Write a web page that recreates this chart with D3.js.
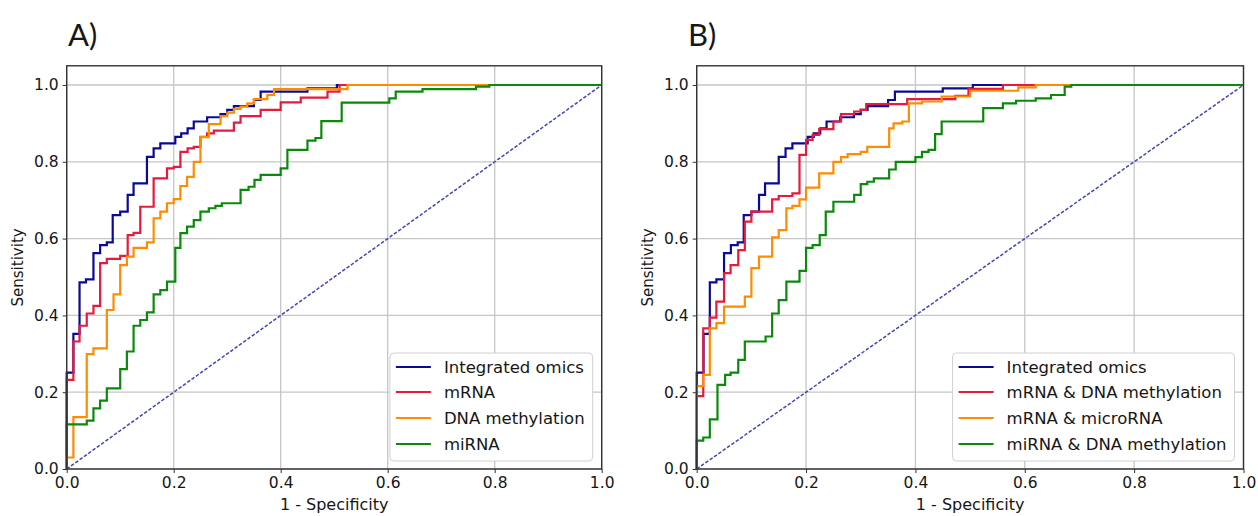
<!DOCTYPE html>
<html>
<head>
<meta charset="utf-8">
<script src="https://cdn.jsdelivr.net/npm/d3@7"></script>
<style>
  body { margin: 0; background: #fff; }
  svg text { font-family: "DejaVu Sans", sans-serif; fill: #161616; }
</style>
</head>
<body>
<div id="chart"></div>
<script>
// ROC points as [1 - specificity, sensitivity]; each point is the level reached after a vertical rise
const integrated = [[0,0],[0,0.251],[0.0125,0.352],[0.024,0.486],[0.036,0.494],[0.05,0.562],[0.0625,0.583],[0.075,0.59],[0.086,0.661],[0.1,0.67],[0.114,0.714],[0.125,0.744],[0.15,0.813],[0.1625,0.835],[0.175,0.848],[0.203,0.865],[0.214,0.874],[0.226,0.887],[0.2375,0.905],[0.2625,0.916],[0.2875,0.924],[0.3,0.935],[0.3125,0.945],[0.35,0.961],[0.3625,0.983],[0.45,0.991],[0.505,1],[1,1]];
const mrna = [[0,0],[0,0.232],[0.0125,0.332],[0.024,0.373],[0.0375,0.405],[0.05,0.425],[0.0625,0.536],[0.075,0.547],[0.1,0.555],[0.114,0.609],[0.125,0.615],[0.1375,0.683],[0.1625,0.757],[0.1875,0.783],[0.2,0.787],[0.2125,0.826],[0.226,0.835],[0.2375,0.839],[0.25,0.865],[0.2625,0.874],[0.275,0.881],[0.3125,0.902],[0.325,0.919],[0.3625,0.935],[0.4,0.955],[0.4375,0.967],[0.4875,0.983],[0.51,1],[1,1]];
const dnaMeth = [[0,0],[0,0.03],[0.0125,0.135],[0.0375,0.299],[0.05,0.314],[0.075,0.414],[0.0875,0.455],[0.1,0.531],[0.1125,0.553],[0.125,0.576],[0.15,0.59],[0.1625,0.653],[0.175,0.67],[0.1875,0.692],[0.2,0.703],[0.2125,0.737],[0.225,0.761],[0.2375,0.8],[0.25,0.864],[0.2656,0.898],[0.2875,0.919],[0.3,0.928],[0.3125,0.938],[0.325,0.944],[0.3375,0.952],[0.35,0.963],[0.375,0.974],[0.3875,0.989],[0.525,1],[1,1]];
const mirna = [[0,0],[0,0.116],[0.0375,0.126],[0.05,0.158],[0.0625,0.178],[0.075,0.21],[0.1,0.26],[0.1125,0.306],[0.125,0.373],[0.1375,0.388],[0.15,0.408],[0.1625,0.455],[0.175,0.466],[0.1875,0.488],[0.203,0.576],[0.2125,0.614],[0.225,0.631],[0.2375,0.648],[0.25,0.67],[0.2656,0.679],[0.278,0.685],[0.29,0.692],[0.325,0.727],[0.34,0.735],[0.351,0.753],[0.3625,0.766],[0.4,0.783],[0.4125,0.831],[0.45,0.855],[0.465,0.862],[0.476,0.906],[0.514,0.954],[0.603,0.965],[0.615,0.983],[0.665,0.989],[0.765,0.996],[0.79,1],[1,1]];
const mrnaDna = [[0,0],[0,0.19],[0.012,0.366],[0.024,0.394],[0.036,0.436],[0.05,0.51],[0.062,0.531],[0.076,0.57],[0.088,0.644],[0.1,0.67],[0.138,0.702],[0.15,0.711],[0.175,0.718],[0.188,0.818],[0.2,0.857],[0.212,0.87],[0.224,0.885],[0.25,0.905],[0.264,0.924],[0.288,0.931],[0.3,0.935],[0.31,0.95],[0.385,0.963],[0.473,0.972],[0.497,0.99],[0.56,1],[1,1]];
const mrnaMirna = [[0,0],[0,0.216],[0.012,0.245],[0.024,0.366],[0.036,0.38],[0.05,0.423],[0.088,0.449],[0.1,0.523],[0.114,0.553],[0.138,0.603],[0.15,0.622],[0.164,0.679],[0.175,0.685],[0.188,0.702],[0.2,0.733],[0.224,0.77],[0.25,0.8],[0.264,0.812],[0.276,0.82],[0.3,0.826],[0.312,0.839],[0.352,0.887],[0.36,0.9],[0.376,0.905],[0.388,0.952],[0.412,0.957],[0.448,0.97],[0.5,0.985],[0.588,0.994],[0.62,1],[1,1]];
const mirnaDna = [[0,0],[0,0.074],[0.012,0.082],[0.024,0.129],[0.038,0.219],[0.052,0.245],[0.062,0.251],[0.076,0.284],[0.088,0.332],[0.126,0.345],[0.138,0.405],[0.15,0.44],[0.164,0.488],[0.188,0.516],[0.2,0.576],[0.212,0.583],[0.225,0.609],[0.236,0.67],[0.25,0.696],[0.288,0.714],[0.3,0.742],[0.312,0.748],[0.324,0.757],[0.352,0.78],[0.364,0.8],[0.4,0.812],[0.412,0.826],[0.424,0.831],[0.436,0.872],[0.448,0.905],[0.524,0.94],[0.56,0.952],[0.584,0.959],[0.62,0.965],[0.648,0.974],[0.673,0.996],[0.685,1],[1,1]];

const labelsA = ["Integrated omics", "mRNA", "DNA methylation", "miRNA"];
const labelsB = ["Integrated omics", "mRNA & DNA methylation", "mRNA & microRNA", "miRNA & DNA methylation"];
const colors = ["#0a0a96", "#e8193c", "#ff8c00", "#0a8a0a"];
const ticks = [0, 0.2, 0.4, 0.6, 0.8, 1.0];
const chance = [[0,0],[1,1]];

const W = 1258, H = 516;
const svg = d3.select("#chart").append("svg")
    .attr("width", W).attr("height", H);

function drawPanel(opts) {
    const x = d3.scaleLinear().domain([0, 1]).range([opts.left, opts.right]);
    const y = d3.scaleLinear().domain([0, 1]).range([469, 85]);
    const top = y(1.05), bottom = y(0);
    const g = svg.append("g");

    // grid
    g.append("g").selectAll("line.gx").data(ticks).enter().append("line")
        .attr("x1", d => x(d)).attr("x2", d => x(d))
        .attr("y1", top).attr("y2", bottom)
        .attr("stroke", "#c6c6c6").attr("stroke-width", 1.3);
    g.append("g").selectAll("line.gy").data(ticks).enter().append("line")
        .attr("x1", x(0)).attr("x2", x(1))
        .attr("y1", d => y(d)).attr("y2", d => y(d))
        .attr("stroke", "#c6c6c6").attr("stroke-width", 1.3);

    const line = d3.line().x(d => x(d[0])).y(d => y(d[1]));

    g.append("path").datum(chance)
        .attr("d", line)
        .attr("fill", "none")
        .attr("stroke", "#4444b6")
        .attr("stroke-width", 1.5)
        .attr("stroke-dasharray", "3.5,1.8");

    const step = d3.line().curve(d3.curveStepAfter).x(d => x(d[0])).y(d => y(d[1]));
    opts.series.forEach((s, i) => {
        g.append("path").datum(s)
            .attr("d", step)
            .attr("fill", "none")
            .attr("stroke", colors[i])
            .attr("stroke-width", 2.2);
    });

    // axes
    const xAxis = g.append("g").attr("transform", `translate(0,${bottom})`)
        .call(d3.axisBottom(x).tickValues(ticks).tickFormat(d3.format(".1f")).tickSize(4).tickPadding(4));
    const yAxis = g.append("g").attr("transform", `translate(${x(0)},0)`)
        .call(d3.axisLeft(y).tickValues(ticks).tickFormat(d3.format(".1f")).tickSize(4).tickPadding(4));
    [xAxis, yAxis].forEach(a => {
        a.select(".domain").remove();
        a.selectAll("line").attr("stroke", "#333");
        a.selectAll("text").style("font-size", "15.5px").attr("fill", "#161616");
    });

    g.append("rect")
        .attr("x", x(0)).attr("y", top)
        .attr("width", x(1) - x(0)).attr("height", bottom - top)
        .attr("fill", "none").attr("stroke", "#333").attr("stroke-width", 1.4);

    g.append("text")
        .attr("x", (x(0) + x(1)) / 2).attr("y", 510)
        .attr("text-anchor", "middle").style("font-size", "16px")
        .text("1 - Specificity");
    g.append("text")
        .attr("transform", `translate(${x(0) - 44},${(top + bottom) / 2}) rotate(-90)`)
        .attr("text-anchor", "middle").style("font-size", "15px")
        .text("Sensitivity");

    g.append("text")
        .attr("x", opts.titleX).attr("y", 46)
        .style("font-family", "Lato, sans-serif").style("font-size", "31px")
        .text(opts.title);

    // legend
    const leg = g.append("g");
    const box = leg.append("rect")
        .attr("fill", "#fff").attr("stroke", "#d0d0d0").attr("rx", 4);
    const rowY = [367, 392, 418, 444];
    let maxW = 0;
    opts.labels.forEach((lab, i) => {
        const t = leg.append("text")
            .attr("y", rowY[i]).attr("dy", "0.35em")
            .style("font-size", "16.5px")
            .text(lab);
        maxW = Math.max(maxW, t.node().getComputedTextLength());
    });
    const legRight = x(1) - 9;
    const legLeft = legRight - (maxW + 62);
    box.attr("x", legLeft).attr("y", 353).attr("width", legRight - legLeft).attr("height", 108);
    leg.selectAll("text").attr("x", legLeft + 54);
    opts.labels.forEach((lab, i) => {
        leg.append("line")
            .attr("x1", legLeft + 6).attr("x2", legLeft + 41)
            .attr("y1", rowY[i]).attr("y2", rowY[i])
            .attr("stroke", colors[i]).attr("stroke-width", 2.2);
    });
}

drawPanel({ left: 66.7, right: 601.7, title: "A)", titleX: 68,
    series: [integrated, mrna, dnaMeth, mirna], labels: labelsA });
drawPanel({ left: 696.7, right: 1243.5, title: "B)", titleX: 688,
    series: [integrated, mrnaDna, mrnaMirna, mirnaDna], labels: labelsB });
</script>
</body>
</html>
